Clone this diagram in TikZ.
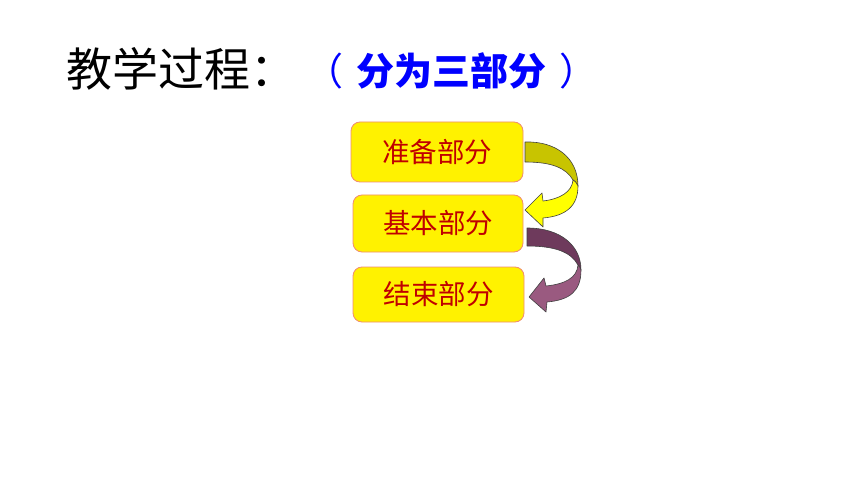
\documentclass[tikz,border=0pt]{standalone}
\usepackage{fontspec}
\setmainfont{Noto Sans CJK SC}
\newfontfamily\cjk{Noto Sans CJK SC}
\definecolor{boxred}{HTML}{C00000}
\definecolor{boxline}{HTML}{F08C70}
\definecolor{titleblue}{HTML}{0000FF}
\definecolor{oliveA}{HTML}{C8C400}
\definecolor{yelB}{HTML}{FFFF00}
\definecolor{purA}{HTML}{6E3A5C}
\definecolor{purB}{HTML}{9A5A80}
\tikzset{
  partbox/.style={draw=boxline, line width=0.8pt, fill=yellow, rounded corners=9pt,
    text=boxred, font=\cjk\fontsize{27.5}{30}\selectfont, inner sep=0pt, align=center},
  ribbon/.style={draw=black!75, line width=0.6pt, line join=round}
}
\begin{document}
\begin{tikzpicture}[x=1pt,y=-1pt]
\useasboundingbox (0,0) rectangle (860,484);
\fill[white] (0,0) rectangle (860,484);
% title
\node[anchor=west, inner sep=0pt, font=\cjk\fontsize{46}{50}\selectfont] (title) at (66,69) {教学过程：};
\node[anchor=center, inner sep=0pt, text=titleblue, font=\cjk\fontsize{38}{42}\selectfont] (sub) at (451,71) {（\hspace{13pt}{\bfseries 分为三部分}\hspace{13pt}）};
% boxes
\node[partbox, minimum width=172pt, minimum height=60pt] (b1) at (437,152) {准备部分};
\node[partbox, minimum width=170pt, minimum height=57pt] (b2) at (438,223.5) {基本部分};
\node[partbox, minimum width=171pt, minimum height=55pt] (b3) at (438.5,294.5) {结束部分};
% yellow arrow: upper (back) piece
\coordinate (ya) at (525,142);
\coordinate (yb) at (525,162);
\coordinate (ytip) at (525,210);
\filldraw[ribbon, fill=oliveA] (ya) .. controls (556,141) and (578,158) .. (578,186)
  .. controls (576,182) and (575,181) .. (573,180)
  .. controls (566,168) and (552,162) .. (yb) -- cycle;
% yellow arrow: lower (front) piece with head
\filldraw[ribbon, fill=yelB] (578,186) .. controls (578,206) and (566,216) .. (543,218)
  -- (543,227) -- (ytip) -- (542,193) -- (543,201)
  .. controls (560,199) and (572,192) .. (573,180)
  .. controls (575,181) and (576,182) .. cycle;
% purple arrow: upper piece
\coordinate (pa) at (527,228);
\coordinate (pb) at (527,246);
\coordinate (ptip) at (529,297);
\filldraw[ribbon, fill=purA] (pa) .. controls (561,228) and (581,246) .. (581,270)
  .. controls (580,267) and (579,266) .. (578,265)
  .. controls (571,252) and (555,246) .. (pb) -- cycle;
% purple arrow: lower piece with head
\filldraw[ribbon, fill=purB] (581,270) .. controls (581,291) and (570,300) .. (547,302)
  -- (546,312) -- (ptip) -- (544,278) -- (546,286)
  .. controls (565,284) and (577,278) .. (578,265)
  .. controls (579,266) and (580,267) .. cycle;
\end{tikzpicture}
\end{document}
